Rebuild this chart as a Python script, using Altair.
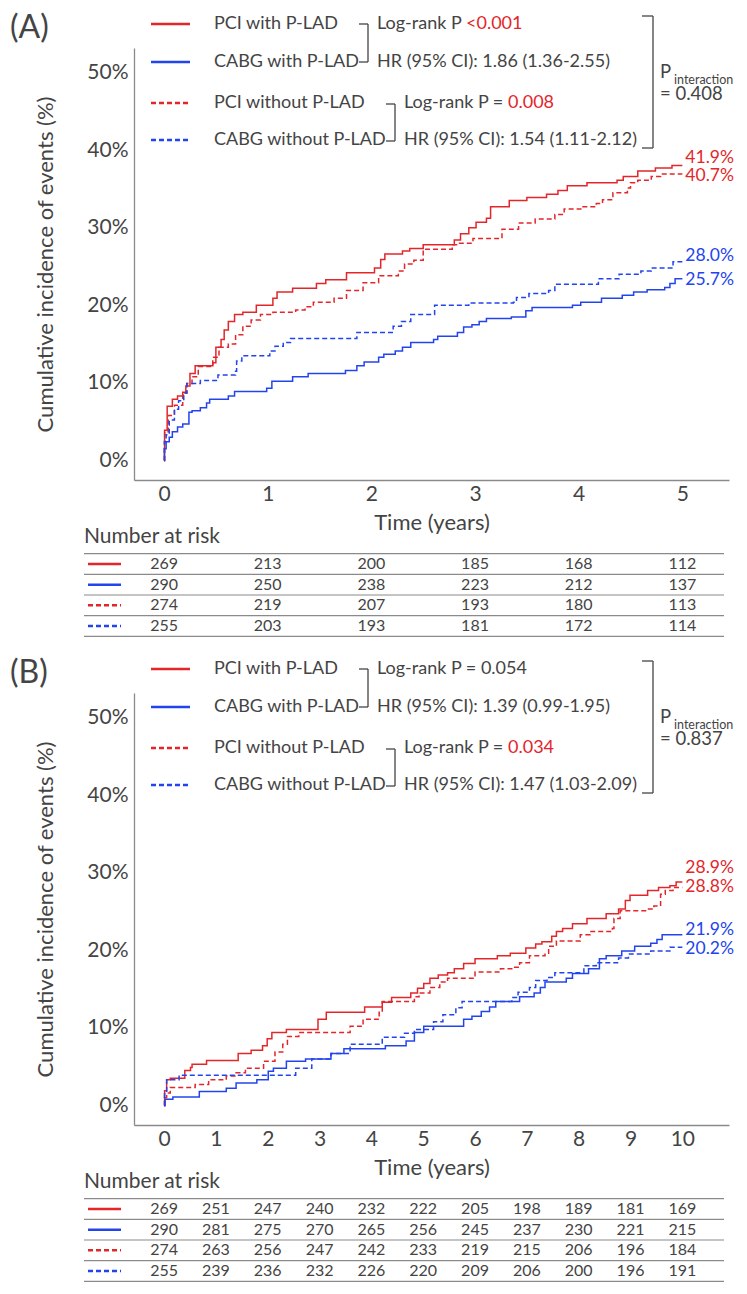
import altair as alt
import pandas as pd

FONT = "Lato"
TEXT = "#444444"
AXIS = "#8a8a8a"
RED = "#e3262a"
BLUE = "#2244ee"

SERIES = ["PCI with P-LAD", "CABG with P-LAD", "PCI without P-LAD", "CABG without P-LAD"]
SERIES_COLORS = [RED, BLUE, RED, BLUE]
SERIES_DASH = [[1, 0], [1, 0], [5, 3], [5, 3]]

# ---------------- Panel A (5 years) : (years, cumulative %) ----------------
A_PCI_WITH = [(0, 0), (0.005, 3.9), (0.03, 7.0), (0.08, 7.9), (0.13, 8.3), (0.18, 8.8), (0.21, 9.6),
              (0.25, 11.2), (0.30, 12.2), (0.47, 12.6), (0.50, 14.6), (0.55, 15.6), (0.58, 16.8),
              (0.62, 17.9), (0.68, 18.8), (0.76, 19.1), (0.89, 20.0), (1.05, 20.9), (1.09, 21.7),
              (1.24, 22.2), (1.47, 22.8), (1.56, 23.3), (1.76, 24.2), (2.03, 24.8), (2.09, 25.9),
              (2.13, 26.6), (2.30, 27.0), (2.37, 27.3), (2.50, 27.8), (2.80, 28.4), (2.86, 29.2),
              (2.94, 30.0), (3.01, 30.7), (3.11, 31.2), (3.15, 32.7), (3.33, 33.5), (3.50, 33.9),
              (3.69, 34.3), (3.80, 34.8), (3.89, 35.4), (4.08, 35.8), (4.37, 36.1), (4.43, 36.6),
              (4.57, 37.3), (4.74, 37.7), (4.90, 38.0), (5.00, 38.0)]
A_CABG_WITH = [(0, 0), (0.003, 1.5), (0.02, 2.4), (0.05, 3.0), (0.08, 3.7), (0.13, 4.3), (0.18, 4.7),
               (0.24, 6.2), (0.27, 6.4), (0.35, 6.8), (0.41, 7.4), (0.44, 7.9), (0.62, 8.3), (0.68, 8.9),
               (0.99, 9.3), (1.04, 10.2), (1.24, 10.8), (1.39, 11.2), (1.75, 11.6), (1.86, 12.2),
               (1.93, 12.7), (2.07, 13.3), (2.12, 13.7), (2.23, 14.1), (2.30, 14.6), (2.38, 15.2),
               (2.60, 15.6), (2.64, 16.0), (2.83, 16.5), (2.89, 17.2), (2.97, 17.5), (3.04, 17.9),
               (3.11, 18.3), (3.35, 18.5), (3.49, 19.3), (3.55, 19.7), (3.94, 20.0), (4.02, 20.4),
               (4.22, 20.9), (4.42, 21.3), (4.53, 21.7), (4.66, 22.0), (4.83, 22.3), (4.88, 22.8),
               (4.93, 23.4), (5.00, 23.4)]
A_PCI_WITHOUT = [(0, 0), (0.006, 3.7), (0.04, 5.8), (0.10, 7.1), (0.18, 8.7), (0.22, 9.9), (0.27, 10.8),
                 (0.33, 12.1), (0.47, 13.3), (0.53, 14.6), (0.62, 15.0), (0.69, 16.2), (0.76, 17.3),
                 (0.84, 18.1), (0.93, 18.8), (1.05, 19.1), (1.27, 19.4), (1.36, 19.8), (1.44, 20.4),
                 (1.64, 20.9), (1.76, 21.9), (1.92, 22.9), (2.07, 23.8), (2.26, 24.4), (2.32, 25.3),
                 (2.41, 25.8), (2.50, 27.2), (2.78, 27.8), (2.84, 28.0), (2.98, 28.6), (3.26, 29.8),
                 (3.42, 30.6), (3.58, 31.1), (3.77, 31.7), (3.86, 32.4), (4.02, 32.7), (4.17, 33.1),
                 (4.23, 33.6), (4.33, 34.5), (4.47, 35.1), (4.50, 35.8), (4.57, 36.1), (4.70, 36.6),
                 (4.79, 36.9), (5.00, 36.9)]
A_CABG_WITHOUT = [(0, 0), (0.003, 2.4), (0.02, 3.3), (0.05, 5.2), (0.10, 6.6), (0.14, 7.7), (0.19, 8.7),
                  (0.22, 9.9), (0.35, 10.3), (0.52, 11.0), (0.69, 11.5), (0.70, 12.8), (0.75, 13.5),
                  (1.02, 14.1), (1.07, 14.7), (1.15, 15.2), (1.22, 15.7), (1.86, 16.5), (2.21, 17.3),
                  (2.29, 17.9), (2.38, 18.8), (2.61, 20.0), (2.94, 20.3), (3.37, 20.4), (3.40, 21.0),
                  (3.52, 21.5), (3.71, 21.9), (3.77, 22.7), (4.19, 23.4), (4.39, 24.0), (4.60, 24.4),
                  (4.70, 24.8), (4.91, 25.6), (5.00, 25.6)]
A_END_LABELS = ["41.9%", "25.7%", "40.7%", "28.0%"]
A_END_LABEL_Y = [39.0, 23.3, 36.6, 26.3]
A_TICKS = [0, 1, 2, 3, 4, 5]
A_RISK_PCI_WITH = [269, 213, 200, 185, 168, 112]
A_RISK_CABG_WITH = [290, 250, 238, 223, 212, 137]
A_RISK_PCI_WITHOUT = [274, 219, 207, 193, 180, 113]
A_RISK_CABG_WITHOUT = [255, 203, 193, 181, 172, 114]
A_STATS = ["Log-rank P ", "<0.001", "HR (95% CI): 1.86 (1.36-2.55)",
           "Log-rank P = ", "0.008", "HR (95% CI): 1.54 (1.11-2.12)", "= 0.408"]

# ---------------- Panel B (10 years) ----------------
B_PCI_WITH = [(0, 0), (0.01, 1.9), (0.05, 3.3), (0.12, 3.5), (0.40, 4.5), (0.51, 4.9), (0.54, 5.3),
              (0.82, 5.8), (1.43, 6.7), (1.68, 7.1), (1.90, 7.7), (1.99, 8.6), (2.08, 9.4), (2.36, 9.8),
              (2.97, 11.1), (3.13, 12.0), (3.87, 12.7), (4.21, 13.3), (4.39, 13.9), (4.76, 14.5),
              (4.89, 15.1), (5.01, 15.7), (5.13, 16.4), (5.29, 16.8), (5.47, 17.1), (5.60, 17.6),
              (5.78, 18.3), (6.00, 18.9), (6.43, 19.3), (6.68, 19.6), (6.98, 20.3), (7.17, 20.8),
              (7.29, 21.1), (7.48, 21.8), (7.57, 22.4), (7.69, 22.8), (7.88, 23.4), (8.16, 24.1),
              (8.53, 24.7), (8.77, 25.3), (8.90, 26.4), (8.99, 27.1), (9.33, 27.7), (9.54, 28.1),
              (9.76, 28.3), (9.88, 28.8), (10.0, 28.8)]
B_CABG_WITH = [(0, 0), (0.02, 0.8), (0.17, 1.1), (0.68, 1.8), (1.20, 2.2), (1.39, 2.9), (1.79, 3.3),
               (2.01, 4.4), (2.11, 4.8), (2.36, 5.7), (2.73, 6.0), (3.22, 6.7), (3.47, 7.3), (4.27, 7.7),
               (4.67, 8.3), (4.83, 9.4), (5.01, 10.2), (5.78, 11.1), (5.94, 11.5), (6.12, 12.1),
               (6.28, 12.7), (6.40, 13.4), (6.86, 14.0), (7.14, 14.5), (7.26, 15.2), (7.35, 15.9),
               (7.76, 16.4), (7.88, 17.0), (8.19, 17.6), (8.40, 18.9), (8.53, 19.3), (8.83, 19.9),
               (9.08, 20.5), (9.39, 20.9), (9.51, 21.4), (9.61, 22.0), (10.0, 22.0)]
B_PCI_WITHOUT = [(0, 0), (0.01, 1.0), (0.05, 1.6), (0.12, 2.3), (0.60, 2.7), (0.86, 3.3), (1.20, 3.8),
                 (1.39, 4.2), (1.57, 4.8), (1.92, 5.7), (2.14, 6.9), (2.29, 7.9), (2.38, 8.9),
                 (2.60, 9.4), (3.59, 10.2), (3.84, 11.1), (4.15, 12.0), (4.21, 13.4), (4.83, 14.0),
                 (4.92, 14.5), (5.13, 15.2), (5.32, 15.9), (5.47, 16.4), (6.00, 17.2), (6.49, 17.6),
                 (6.74, 17.8), (6.86, 18.4), (7.05, 19.3), (7.35, 19.6), (7.42, 20.5), (7.57, 21.2),
                 (8.03, 22.0), (8.22, 22.4), (8.65, 22.8), (8.68, 24.1), (8.80, 25.1), (9.33, 25.3),
                 (9.45, 25.7), (9.58, 27.2), (9.67, 27.7), (9.82, 28.1), (10.0, 28.1)]
B_CABG_WITHOUT = [(0, 0), (0.01, 1.5), (0.05, 3.3), (0.29, 3.9), (2.54, 4.8), (2.85, 6.0), (3.22, 6.7),
                  (3.59, 7.9), (4.21, 8.8), (4.64, 9.3), (4.83, 9.8), (5.20, 10.8), (5.38, 11.7),
                  (5.63, 12.6), (5.75, 13.4), (6.71, 13.9), (6.83, 14.6), (7.05, 15.2), (7.17, 16.1),
                  (7.39, 16.5), (7.54, 17.1), (8.10, 18.0), (8.34, 18.4), (8.77, 19.0), (8.96, 19.5),
                  (9.39, 19.9), (9.76, 20.4), (10.0, 20.4)]
B_END_LABELS = ["28.9%", "21.9%", "28.8%", "20.2%"]
B_END_LABEL_Y = [30.6, 22.6, 28.2, 20.2]
B_TICKS = [0, 1, 2, 3, 4, 5, 6, 7, 8, 9, 10]
B_RISK_PCI_WITH = [269, 251, 247, 240, 232, 222, 205, 198, 189, 181, 169]
B_RISK_CABG_WITH = [290, 281, 275, 270, 265, 256, 245, 237, 230, 221, 215]
B_RISK_PCI_WITHOUT = [274, 263, 256, 247, 242, 233, 219, 215, 206, 196, 184]
B_RISK_CABG_WITHOUT = [255, 239, 236, 232, 226, 220, 209, 206, 200, 196, 191]
B_STATS = ["Log-rank P = 0.054", "", "HR (95% CI): 1.39 (0.99-1.95)",
           "Log-rank P = ", "0.034", "HR (95% CI): 1.47 (1.03-2.09)", "= 0.837"]

Y_TICKS = [0, 10, 20, 30, 40, 50]

# ---------------- layout ----------------
W, H = 595, 432
Y_DOMAIN = [-2.52, 53.15]
DUMMY = pd.DataFrame({"k": [0]})
PREFIX_W = {"Log-rank P ": 89, "Log-rank P = ": 104}


def txt(x, y, s, size=18, color=TEXT, align="left"):
    return alt.Chart(DUMMY).mark_text(text=s, fontSize=size, color=color, align=align,
                                      baseline="middle", font=FONT).encode(
        x=alt.value(x), y=alt.value(y))


def hrule(x1, x2, y, color=TEXT, width=1.3, dash=None):
    kw = dict(color=color, strokeWidth=width)
    if dash is not None and dash != [1, 0]:
        kw["strokeDash"] = dash
    return alt.Chart(DUMMY).mark_rule(**kw).encode(x=alt.value(x1), x2=alt.value(x2), y=alt.value(y))


def vrule(x, y1, y2, color=TEXT, width=1.3):
    return alt.Chart(DUMMY).mark_rule(color=color, strokeWidth=width).encode(
        x=alt.value(x), y=alt.value(y1), y2=alt.value(y2))


def bracket(xl, xr, y1, y2):
    return [hrule(xl, xr, y1), hrule(xl, xr, y2), vrule(xr, y1, y2)]


def panel(tag, curves, end_labels, end_y, t_end, ticks, risks, domain, stats):
    xs = alt.Scale(domain=domain, nice=False, zero=False)
    xaxis = alt.Axis(values=ticks, title="Time (years)", titleFontSize=22, labelFontSize=21,
                     titleFont=FONT, labelFont=FONT, titleColor=TEXT, labelColor=TEXT,
                     titleFontWeight="normal", domainColor=AXIS, domainWidth=1.3,
                     ticks=False, tickSize=0, grid=False, labelPadding=3, titlePadding=8,
                     labelFlush=False)
    ys = alt.Scale(domain=Y_DOMAIN, nice=False, zero=False)
    yaxis = alt.Axis(values=Y_TICKS, labelExpr="datum.value + '%'",
                     title="Cumulative incidence of events (%)", titleFontSize=22, labelFontSize=21,
                     titleFont=FONT, labelFont=FONT, titleColor=TEXT, labelColor=TEXT,
                     titleFontWeight="normal", domainColor=AXIS, domainWidth=1.3,
                     ticks=False, tickSize=0, grid=False, labelPadding=6, titlePadding=29)
    X = alt.X("t:Q", scale=xs, axis=xaxis)
    Y = alt.Y("pct:Q", scale=ys, axis=yaxis)
    color = alt.Color("series:N", scale=alt.Scale(domain=SERIES, range=SERIES_COLORS), legend=None)
    dash = alt.StrokeDash("series:N", scale=alt.Scale(domain=SERIES, range=SERIES_DASH), legend=None)

    rows = []
    for name, pts in zip(SERIES, curves):
        for t, p in pts:
            rows.append({"series": name, "t": t, "pct": p})
    cdf = pd.DataFrame(rows)
    lines = alt.Chart(cdf).mark_line(interpolate="step-after", strokeWidth=1.5).encode(
        x=X, y=Y, color=color, strokeDash=dash)

    ldf = pd.DataFrame({"series": SERIES, "t": [t_end] * 4, "pct": end_y, "label": end_labels})
    labels = alt.Chart(ldf).mark_text(align="left", baseline="middle", dx=3, fontSize=17.5,
                                      font=FONT).encode(x=X, y=Y, text="label:N", color=color)

    ann = [txt(-124, -20, tag, size=32)]
    leg_rows = [-24, 14, 55, 92]
    for name, col, d, y in zip(SERIES, SERIES_COLORS, SERIES_DASH, leg_rows):
        ann.append(hrule(17, 56, y, color=col, width=2.5, dash=d))
        ann.append(txt(80, y, name))
    ann += bracket(225, 234, leg_rows[0], leg_rows[1])
    ann += bracket(252, 261, leg_rows[2] + 1, leg_rows[3] + 1)
    ann += bracket(508, 519, -32, 100)
    lr1, lr1v, hr1, lr2, lr2v, hr2, pint = stats
    ann.append(txt(243, leg_rows[0], lr1))
    if lr1v:
        ann.append(txt(243 + PREFIX_W[lr1], leg_rows[0], lr1v, color=RED))
    ann.append(txt(243, leg_rows[1], hr1))
    ann.append(txt(270, leg_rows[2], lr2))
    if lr2v:
        ann.append(txt(270 + PREFIX_W[lr2], leg_rows[2], lr2v, color=RED))
    ann.append(txt(270, leg_rows[3], hr2))
    ann.append(txt(526, 24, "P", size=18.5))
    ann.append(txt(540, 32, "interaction", size=12.5))
    ann.append(txt(526, 46, pint, size=18.5))
    ann.append(txt(-50, H + 57, "Number at risk", size=21))

    main = alt.layer(lines, labels, *ann)

    # number-at-risk table
    trows = []
    for r, (name, vals) in enumerate(zip(SERIES, risks)):
        for t, n in zip(ticks, vals):
            trows.append({"series": name, "r": r, "t": t, "n": n})
    tdf = pd.DataFrame(trows)
    TY = alt.Y("r:Q", scale=alt.Scale(domain=[0, 3], range=[H + 84, H + 146], nice=False, zero=False),
               axis=None)
    ttext = alt.Chart(tdf).mark_text(fontSize=16, font=FONT, color=TEXT, baseline="middle").encode(
        x=X, y=TY, text="n:Q")
    sep = alt.Chart(pd.DataFrame({"r": [-0.5, 0.5, 1.5, 2.5, 3.5]})).mark_rule(
        color=AXIS, strokeWidth=1.2).encode(x=alt.value(-50), x2=alt.value(W - 5), y=TY)
    samples = alt.Chart(pd.DataFrame({"series": SERIES, "r": [0, 1, 2, 3]})).mark_rule(
        strokeWidth=2.5).encode(x=alt.value(-46), x2=alt.value(-13), y=TY, color=color, strokeDash=dash)
    table = alt.layer(ttext, sep, samples)

    return alt.layer(main, table).resolve_scale(y="independent").properties(width=W, height=H)


panel_a = panel("(A)", [A_PCI_WITH, A_CABG_WITH, A_PCI_WITHOUT, A_CABG_WITHOUT],
                A_END_LABELS, A_END_LABEL_Y, 5.0, A_TICKS,
                [A_RISK_PCI_WITH, A_RISK_CABG_WITH, A_RISK_PCI_WITHOUT, A_RISK_CABG_WITHOUT],
                [-0.29, 5.45], A_STATS)
panel_b = panel("(B)", [B_PCI_WITH, B_CABG_WITH, B_PCI_WITHOUT, B_CABG_WITHOUT],
                B_END_LABELS, B_END_LABEL_Y, 10.0, B_TICKS,
                [B_RISK_PCI_WITH, B_RISK_CABG_WITH, B_RISK_PCI_WITHOUT, B_RISK_CABG_WITHOUT],
                [-0.58, 10.9], B_STATS)

chart = alt.vconcat(panel_a, panel_b, spacing=20).properties(
    padding={"left": 2, "top": 4, "right": 0, "bottom": 0}
).configure_view(stroke=None)

chart.save("out.html", embed_options={"renderer": "svg", "actions": False})
